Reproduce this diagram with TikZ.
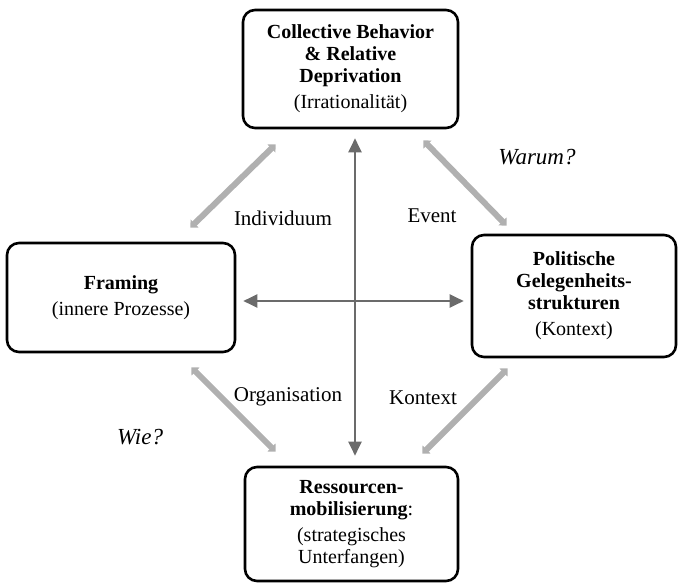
\documentclass[tikz,border=0pt]{standalone}
\usepackage{fontspec}
\setmainfont{Liberation Serif}
\usetikzlibrary{arrows.meta,calc}

\begin{document}
\begin{tikzpicture}[x=0.5pt,y=-0.5pt]
  \tikzset{
    box/.style={draw,line width=1.3pt,rounded corners=6pt,align=center,inner sep=2pt,font=\fontsize{10}{11}\selectfont},
    mainarrow/.style={draw=black!58,line width=1pt,{Triangle[length=7pt,width=6.5pt]}-{Triangle[length=7pt,width=6.5pt]}},
    sidearrow/.style={draw=black!31,line width=3pt,{Triangle[length=3pt,width=5.5pt]}-{Triangle[length=3pt,width=5.5pt]}},
    edgetext/.style={font=\fontsize{10.5}{12}\selectfont},
    asktext/.style={font=\fontsize{11.5}{13}\selectfont\itshape}
  }
  \useasboundingbox (0,0) rectangle (680,583);
  \node[box,minimum width=107.5pt,minimum height=59pt] (collective) at (350.5,69)
    {\textbf{Collective Behavior}\\\textbf{\& Relative}\\\textbf{Deprivation}\\[2pt](Irrationalität)};
  \node[box,minimum width=114pt,minimum height=54.5pt] (framing) at (121,297.5)
    {\textbf{Framing}\\[2pt](innere Prozesse)};
  \node[box,minimum width=102pt,minimum height=61pt] (politik) at (574,296)
    {\textbf{Politische}\\\textbf{Gelegenheits-}\\\textbf{strukturen}\\[2pt](Kontext)};
  \node[box,minimum width=106.5pt,minimum height=57pt] (resources) at (351.5,524)
    {\textbf{Ressourcen-}\\\textbf{mobilisierung}:\\[2pt](strategisches\\Unterfangen)};
  \coordinate (cross) at (355,301);
  \draw[mainarrow] ($(collective.south -| cross)+(0,9)$) -- ($(resources.north -| cross)+(0,-10)$);
  \draw[mainarrow] ($(framing.east |- cross)+(7,0)$) -- ($(politik.west |- cross)+(-7,0)$);
  \draw[sidearrow] ($(collective.south west)+(34,15)$) -- ($(framing.north east)+(-46,-14)$);
  \draw[sidearrow] ($(collective.south east)+(-36,11)$) -- ($(politik.north west)+(36,-8)$);
  \draw[sidearrow] ($(framing.south east)+(-45,14)$) -- ($(resources.north west)+(32,-14)$);
  \draw[sidearrow] ($(politik.south west)+(37,10)$) -- ($(resources.north east)+(-37,-12)$);
  \node[edgetext] (individuum) at (283,218) {Individuum};
  \node[edgetext] (event) at (432,216) {Event};
  \node[edgetext] (organisation) at (288,397) {Organisation};
  \node[edgetext] (kontext) at (423,398) {Kontext};
  \node[asktext] (warum) at (537,157) {Warum?};
  \node[asktext] (wie) at (140,437) {Wie?};
\end{tikzpicture}
\end{document}
